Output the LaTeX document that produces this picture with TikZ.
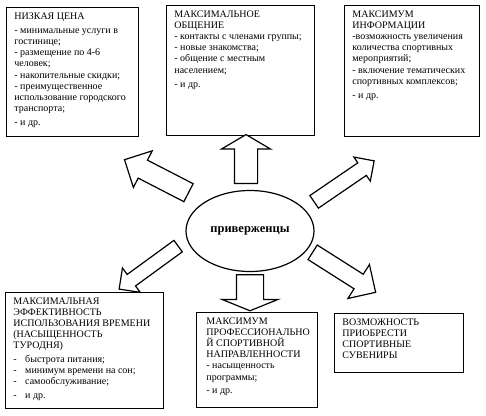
\documentclass[tikz,border=0pt]{standalone}
\usepackage{fontspec}
\setmainfont{Liberation Serif}
\usetikzlibrary{shapes.arrows,shapes.geometric,calc}

\newcommand\paneltext[3]{\begin{minipage}[c][#2][t]{#1}\raggedright
  \fontsize{10}{11.2}\selectfont #3\end{minipage}}

\begin{document}
\begin{tikzpicture}[x=1pt,y=-1pt,
  box/.style={draw,line width=0.8pt,anchor=north west,inner xsep=8pt,inner ysep=5pt},
  blk/.style={single arrow,draw,line width=1.2pt,fill=white,inner xsep=0pt,single arrow head indent=0pt}]
\useasboundingbox (0,0) rectangle (486,415);
% boxes
\node[box] (cena) at (6,7) {\paneltext{116pt}{119pt}{%
  НИЗКАЯ ЦЕНА\\[3pt]
  - минимальные услуги в\\
  гостинице;\\
  - размещение по 4-6\\
  человек;\\
  - накопительные скидки;\\
  - преимущественное\\
  использование городского\\
  транспорта;\\[3pt]
  - и др.}};
\node[box] (obsch) at (166,5) {\paneltext{132pt}{120pt}{%
  МАКСИМАЛЬНОЕ\\
  ОБЩЕНИЕ\\
  - контакты с членами группы;\\
  - новые знакомства;\\
  - общение с местным\\
  населением;\\[3pt]
  - и др.}};
\node[box] (info) at (344,5) {\paneltext{119pt}{121pt}{%
  МАКСИМУМ\\
  ИНФОРМАЦИИ\\
  -возможность увеличения\\
  количества спортивных\\
  мероприятий;\\
  - включение тематических\\
  спортивных комплексов;\\[3pt]
  - и др.}};
\node[box] (vremya) at (5,292) {\paneltext{142pt}{106pt}{%
  МАКСИМАЛЬНАЯ\\
  ЭФФЕКТИВНОСТЬ\\
  ИСПОЛЬЗОВАНИЯ ВРЕМЕНИ\\
  (НАСЫЩЕННОСТЬ\\
  ТУРОДНЯ)\\[2pt]
  -\hspace{6pt} быстрота питания;\\
  -\hspace{6pt} минимум времени на сон;\\
  -\hspace{6pt} самообслуживание;\\[3pt]
  -\hspace{6pt} и др.}};
\node[box,inner xsep=10pt] (prof) at (196,312) {\paneltext{101pt}{85pt}{%
  МАКСИМУМ\\
  ПРОФЕССИОНАЛЬНО\\
  Й СПОРТИВНОЙ\\
  НАПРАВЛЕННОСТИ\\
  - насыщенность\\
  программы;\\[2pt]
  - и др.}};
\node[box] (suvenir) at (334,313) {\paneltext{113pt}{49pt}{%
  ВОЗМОЖНОСТЬ\\
  ПРИОБРЕСТИ\\
  СПОРТИВНЫЕ\\
  СУВЕНИРЫ}};
% centre
\node[ellipse,draw,line width=1.2pt,minimum width=128pt,minimum height=81pt]
  (priv) at (250,231) {\fontsize{12.5}{14}\selectfont\bfseries приверженцы};
% block arrows: tail, tip
\coordinate (up-a) at (246,187); \coordinate (up-b) at (246,138);
\coordinate (dn-a) at (250,272); \coordinate (dn-b) at (250,308);
\coordinate (ul-a) at (193,195); \coordinate (ul-b) at (129,162);
\coordinate (ur-a) at (311,204); \coordinate (ur-b) at (371,163);
\coordinate (ll-a) at (181,244); \coordinate (ll-b) at (122,287);
\coordinate (lr-a) at (309,250); \coordinate (lr-b) at (372,290);
\foreach \arr/\hw/\sw/\ang in {up/48/22/119,dn/55/26/136,ul/40/19/90,ur/28/14/90,ll/29/13/90,lr/39/16/90}{
  \path let \p1=($(\arr-b)-(\arr-a)$), \n1={veclen(\x1,\y1)}, \n2={atan2(\y1,\x1)} in
    node[blk,minimum height=\n1,inner ysep=\sw/2*1pt,single arrow head extend={(\hw-\sw)/2*1pt},
      single arrow tip angle=\ang,rotate=\n2] (\arr) at ($(\arr-a)!0.5!(\arr-b)$) {};
}
\end{tikzpicture}
\end{document}
